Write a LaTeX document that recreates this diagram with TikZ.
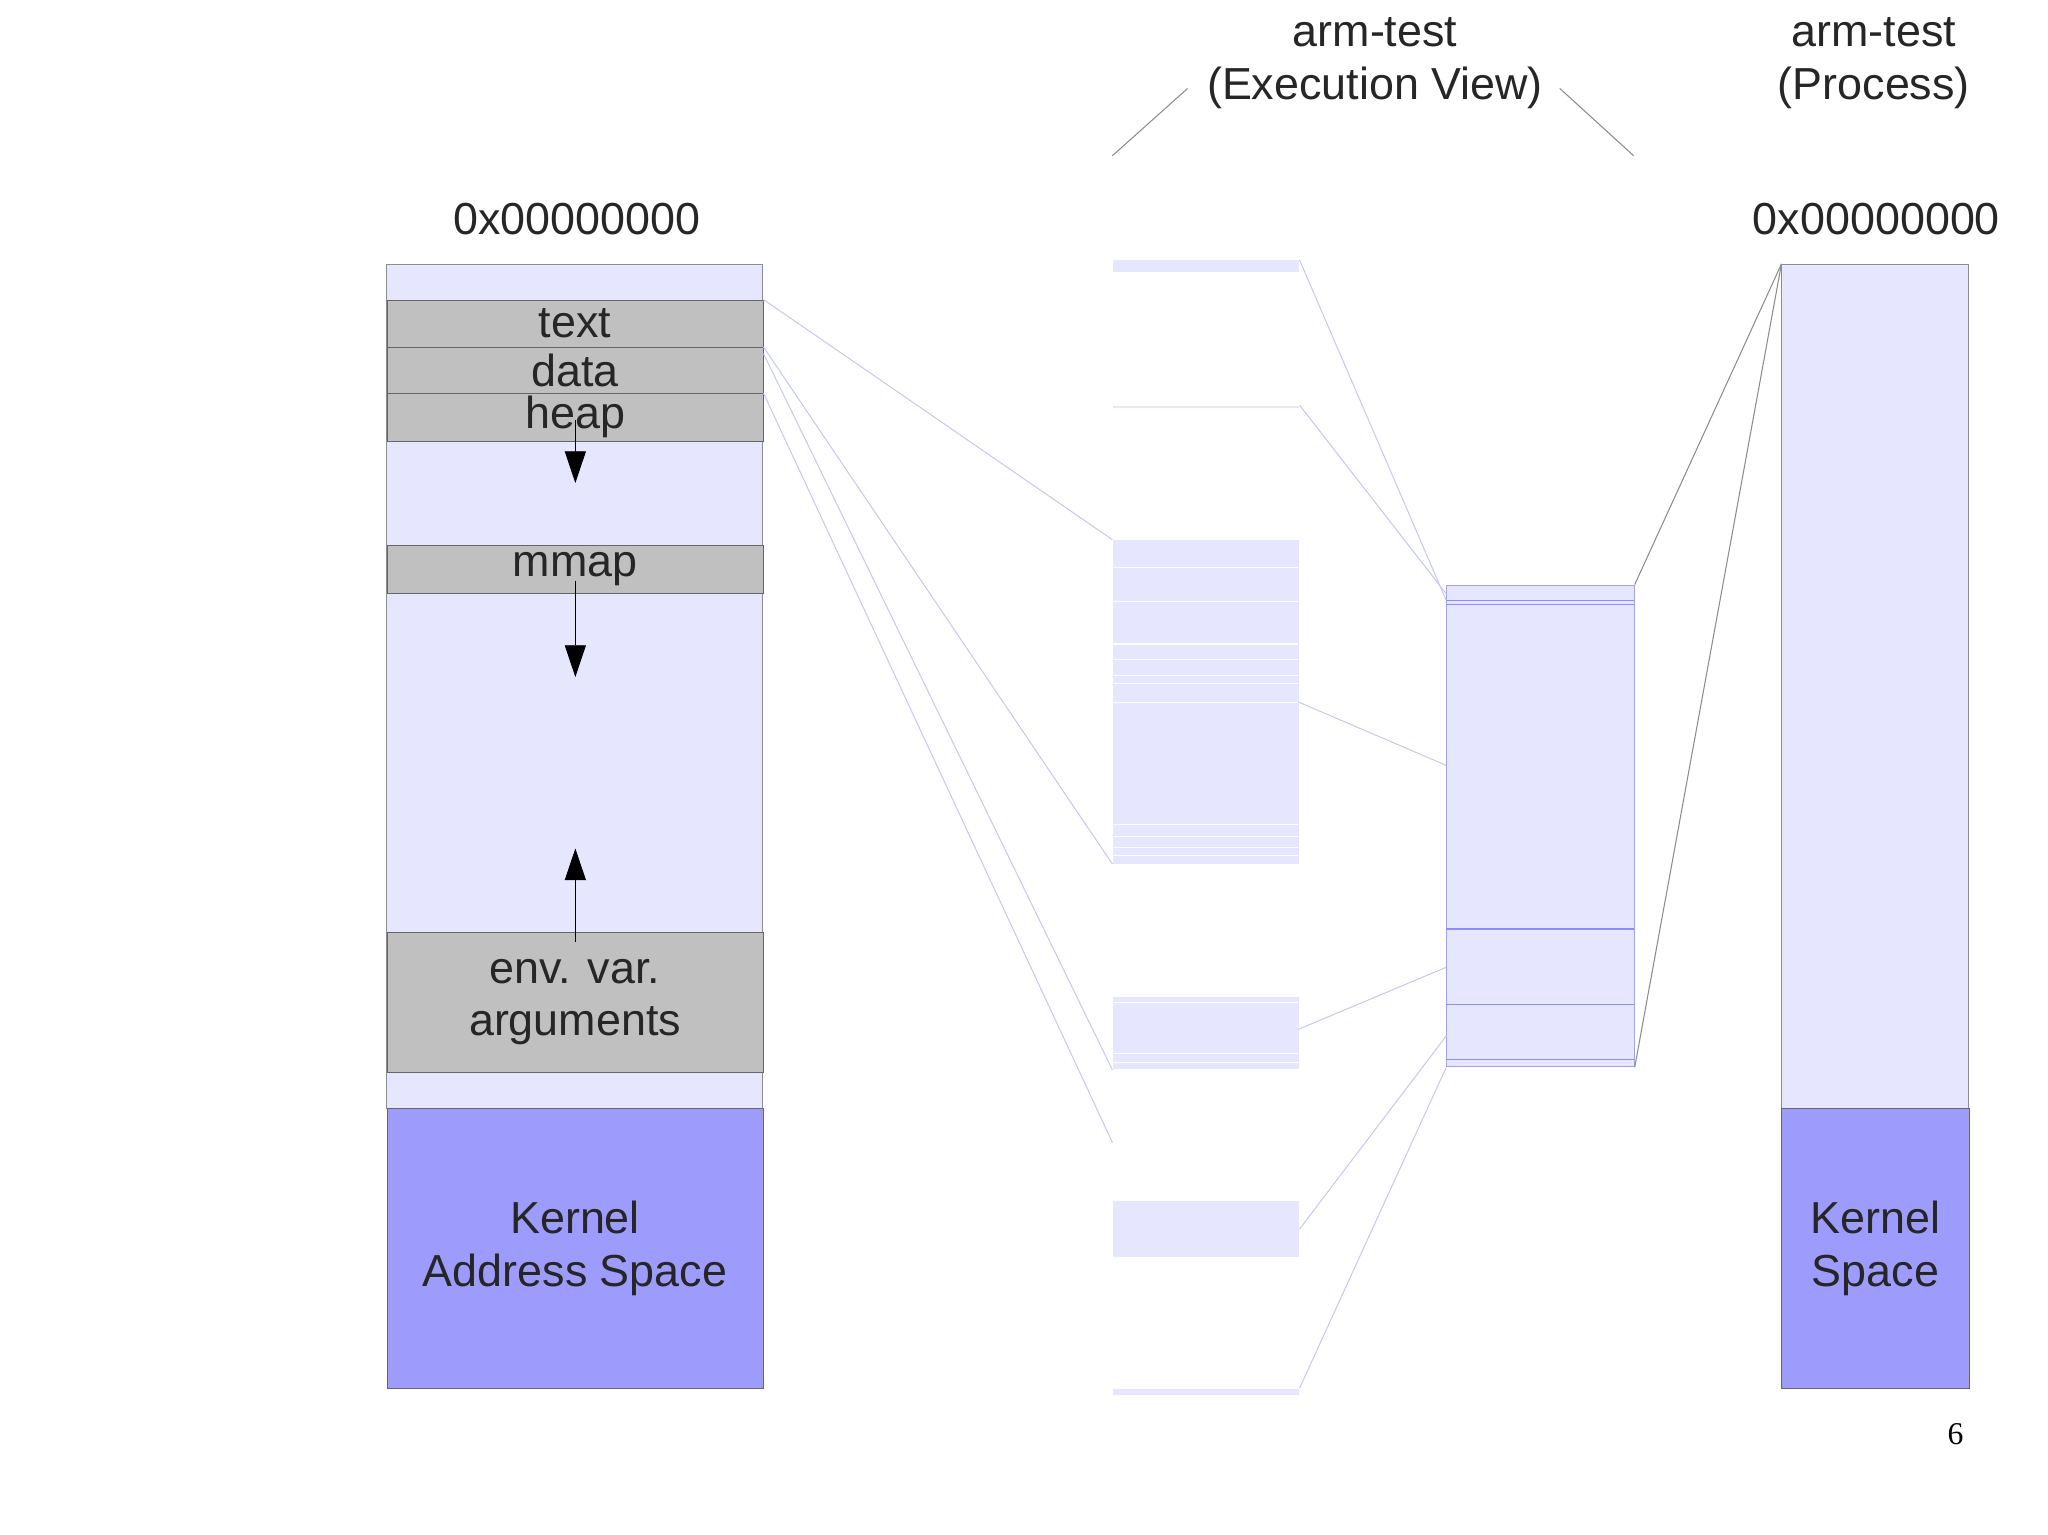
\documentclass[tikz,border=0pt]{standalone}
\usepackage{fontspec}
\setmainfont{Liberation Sans}
\newfontfamily\serifpg{Liberation Serif}
\begin{document}
\begin{tikzpicture}[x=0.5pt,y=-0.5pt,
  lt/.style={fill=lav,draw=black!45,line width=0.3pt},
  gr/.style={fill=gry,draw=black!60,line width=0.3pt},
  kn/.style={fill=kern,draw=black!60,line width=0.3pt},
  mid/.style={fill=lav,draw=none},
  con/.style={draw=lin,line width=0.4pt},
  gcon/.style={draw=black!45,line width=0.4pt},
  lbl/.style={font=\fontsize{17}{20}\selectfont,text=black!85,align=center},
  arr/.style={-{Triangle[width=8pt,length=12pt]},line width=0.3pt}]
\usetikzlibrary{arrows.meta}
\definecolor{lav}{HTML}{E6E6FF}
\definecolor{gry}{HTML}{C0C0C0}
\definecolor{kern}{HTML}{9D9BFC}
\definecolor{lin}{HTML}{C8C8F8}
\useasboundingbox (0,0) rectangle (1552,1163);
% left column
\draw[lt] (293,200) rectangle (578,840);
\node[gr,minimum width=142.5pt,minimum height=18pt,inner sep=0,anchor=north west,lbl] (text) at (293,227) {text};
\node[gr,minimum width=142.5pt,minimum height=17.5pt,inner sep=0,anchor=north west,lbl] (data) at (293,263) {data};
\node[gr,minimum width=142.5pt,minimum height=18pt,inner sep=0,anchor=north west,lbl] (heap) at (293,298) {heap};
\node[gr,minimum width=142.5pt,minimum height=18pt,inner sep=0,anchor=north west,lbl] (mmap) at (293,413) {mmap};
\node[gr,minimum width=142.5pt,minimum height=53pt,inner sep=0,anchor=north west,lbl] (env) at (293,706) {env. var.\\arguments};
\node[kn,minimum width=142.5pt,minimum height=106pt,inner sep=0,anchor=north west,lbl] (kas) at (293,840) {Kernel\\Address Space};
\coordinate (h1) at (436,318); \coordinate (h2) at (436,366);
\coordinate (m1) at (436,440); \coordinate (m2) at (436,513);
\coordinate (e1) at (436,714); \coordinate (e2) at (436,643);
\draw[arr] (h1) -- (h2);
\draw[arr] (m1) -- (m2);
\draw[arr] (e1) -- (e2);
\node[lbl] (addrL) at (437,166) {0x00000000};
% middle column
\node[mid,minimum width=70.5pt,minimum height=4.5pt,inner sep=0,anchor=north west] (s1) at (843,197) {};
\node[mid,minimum width=70.5pt,minimum height=1pt,inner sep=0,anchor=north west] (s2) at (843,307) {};
\node[mid,minimum width=70.5pt,minimum height=122.5pt,inner sep=0,anchor=north west] (s3) at (843,409) {};
\foreach \y in {430,456,488,500,512,518,532,625,634,642,648} \draw[white,line width=0.4pt] (843,\y) -- (984,\y);
\node[mid,minimum width=70.5pt,minimum height=27.5pt,inner sep=0,anchor=north west] (s4) at (843,755) {};
\foreach \y in {760,798,805} \draw[white,line width=0.4pt] (843,\y) -- (984,\y);
\node[mid,minimum width=70.5pt,minimum height=21pt,inner sep=0,anchor=north west] (s5) at (843,910) {};
\node[mid,minimum width=70.5pt,minimum height=2.5pt,inner sep=0,anchor=north west] (s6) at (843,1052) {};
% exec block
\node[fill=lav,draw=lin!80!blue,line width=0.4pt,minimum width=71pt,minimum height=182.5pt,inner sep=0,anchor=north west] (ex) at (1096,443) {};
\foreach \y in {455,458,704,761,803} \draw[lin!70!blue,line width=0.4pt] (1096,\y) -- (1238,\y);
% process column
\draw[lt] (1350,200) rectangle (1492,840);
\node[kn,minimum width=71pt,minimum height=106pt,inner sep=0,anchor=north west,lbl] (ks) at (1350,840) {Kernel\\Space};
\node[lbl] (addrR) at (1422,166) {0x00000000};
\node[lbl] (t1) at (1042,48) {arm-test\\(Execution View)};
\node[lbl] (t2) at (1420,48) {arm-test\\(Process)};
\node[font=\serifpg\fontsize{12}{14}\selectfont] (pg) at (1482,1087) {6};
% connectors left -> middle
\draw[con] (text.north east) -- (s3.north west);
\draw[con] (data.north east) -- (s3.south west);
\draw[con] ([yshift=-2.5pt]data.north east) -- (s4.south west);
\draw[con] (heap.north east) -- ([yshift=-27.5pt]s4.south west);
% middle -> exec
\coordinate (c1) at (1096,455); \coordinate (c2) at (1096,450);
\draw[con] (s1.north east) -- (c1);
\draw[con] (s2.north east) -- (c2);
\draw[con] (984,532) -- (1096,580);
\draw[con] (984,780) -- (1096,733);
\draw[con] (s5.east) -- (1096,785);
\draw[con] (s6.north east) -- (ex.south west);
% exec -> process
\coordinate (p0) at (1350,200);
\draw[gcon] (ex.north east) -- (p0);
\draw[gcon] (ex.south east) -- (p0);
% title slants
\coordinate (a1) at (900,67); \coordinate (a2) at (843,118);
\coordinate (b1) at (1182,67); \coordinate (b2) at (1238,118);
\draw[gcon] (a1) -- (a2);
\draw[gcon] (b1) -- (b2);
\end{tikzpicture}
\end{document}
